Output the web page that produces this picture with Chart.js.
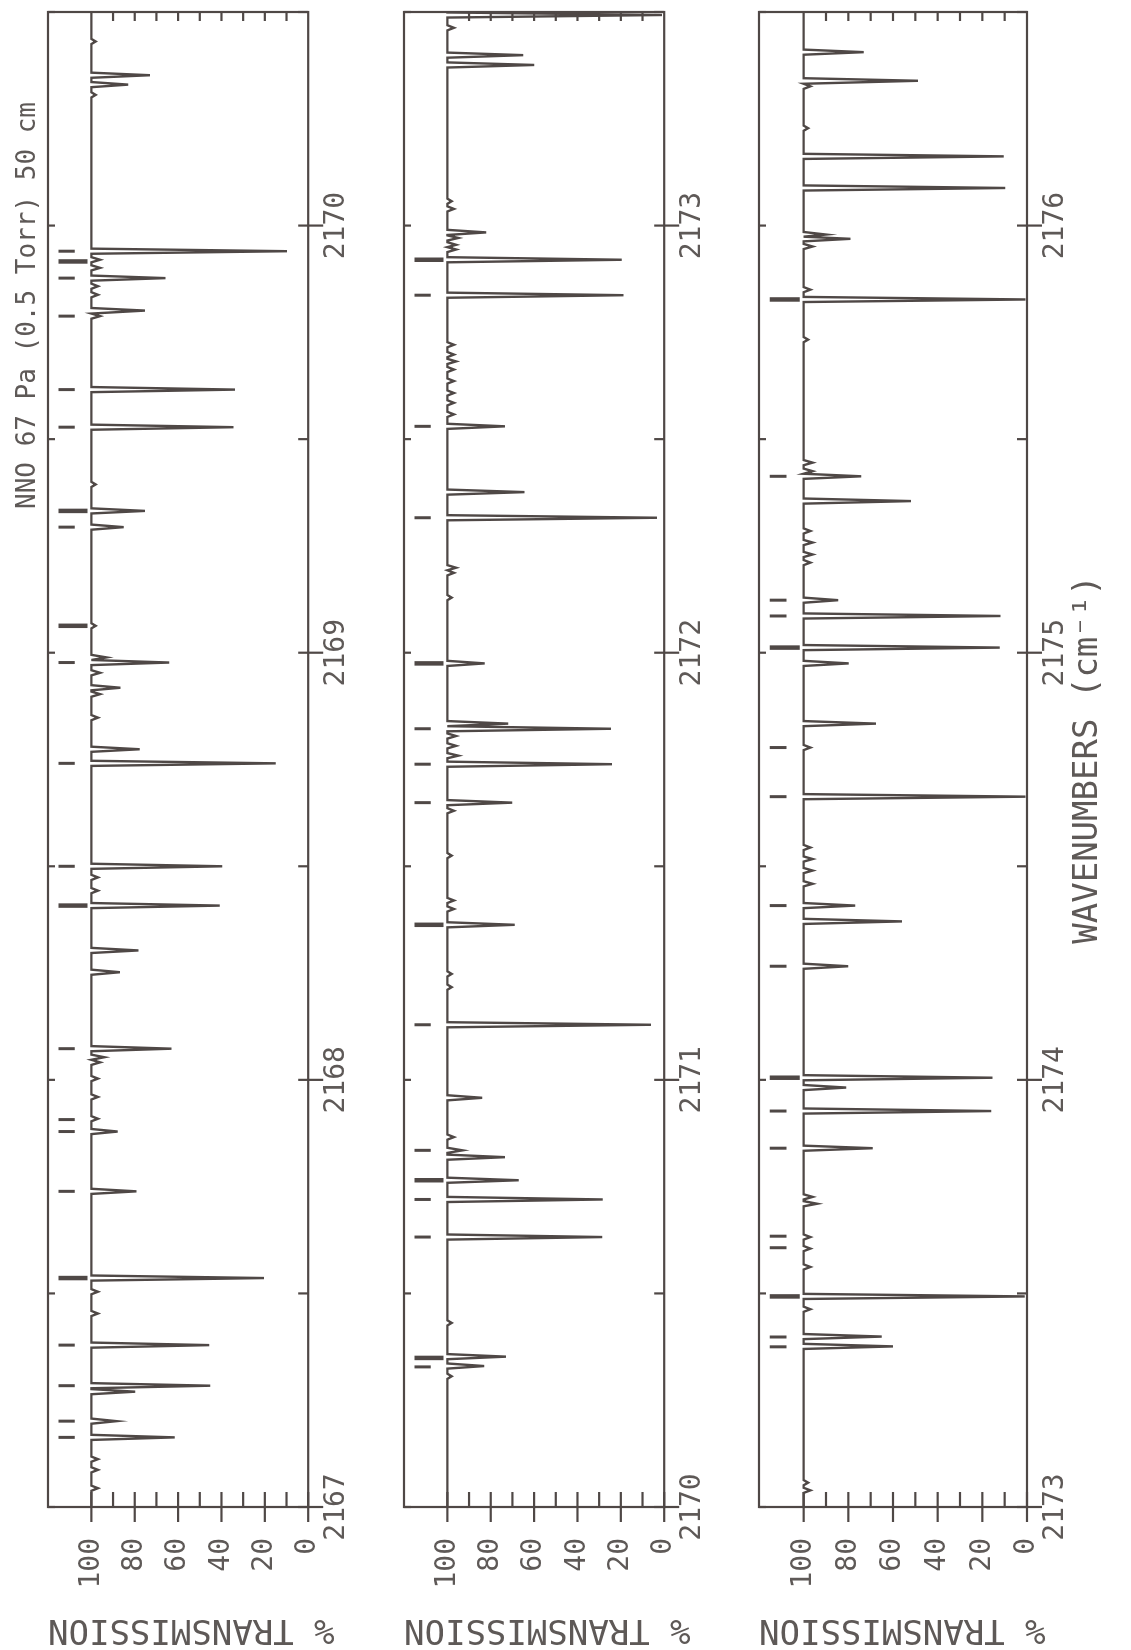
<!DOCTYPE html>
<html>
<head>
<meta charset="utf-8">
<script src="https://cdn.jsdelivr.net/npm/chart.js@4.4.1/dist/chart.umd.min.js"></script>
<style>
  html, body { margin: 0; padding: 0; background: #ffffff; width: 1131px; height: 1650px; overflow: hidden; }
  #rot { position: absolute; left: 0; top: 0; width: 1650px; height: 1131px;
         transform-origin: 0 0; transform: translate(0px, 1650px) rotate(-90deg); }
  #rot canvas { position: absolute; left: 0; }
</style>
</head>
<body>
<div id="rot">
  <canvas id="p0" width="1650" height="356" style="top:0px"></canvas>
  <canvas id="p1" width="1650" height="356" style="top:356px"></canvas>
  <canvas id="p2" width="1650" height="420" style="top:711px"></canvas>
</div>
<script>
// ---------------- DATA ----------------
const titleText = "NNO 67 Pa (0.5 Torr) 50 cm";
const xAxisTitle = "WAVENUMBERS (cm\u207B\u00B9)";
const yAxisTitle = "% TRANSMISSION";

// wavenumber range of each panel
const panelRanges = [[2167, 2170.5], [2170, 2173.5], [2173, 2176.5]];
// range in which each panel shows its assignment markers
const markerSpans = [[2167, 2170], [2170, 2173], [2173, 2176.5]];
// labelled wavenumber ticks of each panel
const wavenumberLabels = [[2167, 2168, 2169, 2170], [2170, 2171, 2172, 2173], [2173, 2174, 2175, 2176]];
// labelled transmission ticks
const transmissionLabels = [0, 20, 40, 60, 80, 100];

// absorption lines: position (cm-1) and transmission at line centre (%)
const lineWavenumbers = [
  2167.044, 2167.087, 2167.112, 2167.163, 2167.201, 2167.270, 2167.284, 2167.379, 2167.453, 2167.504,
  2167.536, 2167.739, 2167.879, 2167.909, 2167.960, 2168.003, 2168.041, 2168.053, 2168.073, 2168.252,
  2168.303, 2168.408, 2168.443, 2168.474, 2168.500, 2168.741, 2168.774, 2168.848, 2168.903, 2168.918,
  2168.953, 2168.977, 2168.989, 2169.063, 2169.294, 2169.332, 2169.394, 2169.528, 2169.616, 2169.788,
  2169.801, 2169.838, 2169.858, 2169.877, 2169.901, 2169.920, 2169.940, 2170.306, 2170.330, 2170.352,
  2170.431, 2170.632, 2170.720, 2170.765, 2170.819, 2170.835, 2170.866, 2170.958, 2171.129, 2171.217,
  2171.248, 2171.363, 2171.400, 2171.420, 2171.525, 2171.630, 2171.649, 2171.739, 2171.759, 2171.782,
  2171.805, 2171.822, 2171.834, 2171.975, 2172.129, 2172.187, 2172.199, 2172.316, 2172.376, 2172.530,
  2172.558, 2172.585, 2172.608, 2172.636, 2172.663, 2172.682, 2172.698, 2172.721, 2172.837, 2172.920,
  2172.944, 2172.955, 2172.971, 2172.984, 2173.039, 2173.057, 2173.376, 2173.399, 2173.463, 2173.493,
  2173.562, 2173.605, 2173.632, 2173.710, 2173.726, 2173.840, 2173.927, 2173.982, 2174.005, 2174.266,
  2174.371, 2174.408, 2174.459, 2174.490, 2174.517, 2174.544, 2174.663, 2174.778, 2174.834, 2174.975,
  2175.012, 2175.086, 2175.123, 2175.211, 2175.230, 2175.258, 2175.285, 2175.355, 2175.413, 2175.425,
  2175.445, 2175.733, 2175.827, 2175.850, 2175.951, 2175.969, 2175.979, 2176.088, 2176.162, 2176.228,
  2176.326, 2176.339, 2176.406
];
const lineTransmission = [
  97, 97, 97, 61.6, 88.4, 79.8, 45.2, 45.7, 97, 97,
  20.4, 79.2, 87.9, 97, 97, 97, 96, 94, 63.1, 86.9,
  78.3, 40.8, 97, 97, 39.6, 15.0, 77.7, 97, 96, 86.6,
  96, 64.1, 93, 98, 85.1, 75.3, 98, 34.5, 33.8, 96,
  75.3, 97, 97, 65.8, 96, 96, 9.8, 98, 83, 73,
  98, 28.6, 28.3, 67.1, 73.4, 93, 97, 84.0, 6.1, 98,
  98, 68.9, 97, 97, 98, 97, 70.1, 24.1, 95, 96,
  96, 24.5, 72, 82.8, 98, 97, 96, 3.3, 64.4, 73.4,
  97, 97, 97, 97, 97, 96, 97, 97, 18.8, 19.6,
  96, 96, 95, 82.1, 97, 98, 60, 65, 97, 1,
  97, 97, 97, 94, 96, 69.1, 16.0, 81.0, 15.4, 80.1,
  56.0, 76.9, 96, 96, 96, 97, 0.7, 97, 67.6, 79.9,
  12.2, 11.9, 84.6, 97, 96, 96, 97, 52, 74.2, 96,
  96, 98, 0.7, 97, 96, 79.1, 90, 9.7, 10.4, 98,
  97, 48.8, 73.1
];

// assignment markers above the trace (short and long/bold ones)
const markerShortWavenumbers = [
  2167.163, 2167.201, 2167.284, 2167.379, 2167.739, 2167.879, 2167.907, 2168.073, 2168.500, 2168.741,
  2168.977, 2169.294, 2169.528, 2169.616, 2169.788, 2169.877, 2169.940,
  2170.328, 2170.632, 2170.720, 2170.835, 2171.129, 2171.649, 2171.739, 2171.822, 2172.316, 2172.530, 2172.837,
  2173.375, 2173.398, 2173.607, 2173.634, 2173.840, 2173.927, 2174.266, 2174.408, 2174.663, 2174.778,
  2175.086, 2175.123, 2175.413
];
const markerLongWavenumbers = [
  2167.536, 2168.408, 2169.063, 2169.332, 2169.916,
  2170.349, 2170.765, 2171.363, 2171.975, 2172.920,
  2173.493, 2174.005, 2175.012, 2175.827
];
const markerShortSpan = [107.7, 115.2];
const markerLongSpan = [101.8, 115.2];

// ---------------- STYLE ----------------
const LINE = '#4f4846';
const TEXT = '#5e5957';
const FONT = "'DejaVu Sans Mono', 'Liberation Mono', monospace";
const BASELINE = 100;
const HALF_WIDTH = 0.006;
const AREA_TOP = 48, AREA_H = 268, RIGHT_PAD = 10, Y_AXIS_W = 143;

Chart.defaults.font.family = FONT;
Chart.defaults.color = TEXT;

function spectrumPoints(lo, hi) {
  const pts = [{ x: lo - 0.05, y: BASELINE }];
  for (let i = 0; i < lineWavenumbers.length; i++) {
    const w = lineWavenumbers[i];
    if (w < lo - 0.05 || w > hi + 0.05) continue;
    const prev = i > 0 ? lineWavenumbers[i - 1] : -Infinity;
    const next = i < lineWavenumbers.length - 1 ? lineWavenumbers[i + 1] : Infinity;
    const hl = Math.min(HALF_WIDTH, (w - prev) / 2);
    const hr = Math.min(HALF_WIDTH, (next - w) / 2);
    pts.push({ x: w - hl, y: BASELINE }, { x: w, y: lineTransmission[i] }, { x: w + hr, y: BASELINE });
  }
  pts.push({ x: hi + 0.05, y: BASELINE });
  return pts;
}

function markerPoints(list, span, ownRange, last) {
  const pts = [];
  list.forEach(w => {
    const inside = w >= ownRange[0] && (last ? w <= ownRange[1] : w < ownRange[1]);
    if (!inside) return;
    pts.push({ x: w, y: span[1] }, { x: w, y: span[0] }, { x: w, y: null });
  });
  return pts;
}

const frameTicks = {
  id: 'frameTicks',
  afterDatasetsDraw(chart) {
    const { ctx, chartArea: a } = chart;
    const xs = chart.scales.x, ys = chart.scales.y;
    ctx.save();
    ctx.strokeStyle = LINE;
    ctx.lineWidth = 2.2;
    ctx.lineCap = 'butt';
    ctx.strokeRect(a.left, a.top, a.right - a.left, a.bottom - a.top);
    const seg = (x1, y1, x2, y2) => { ctx.beginPath(); ctx.moveTo(x1, y1); ctx.lineTo(x2, y2); ctx.stroke(); };
    ys.ticks.forEach(t => {
      const v = t.value;
      if (v > 100) return;
      const py = ys.getPixelForValue(v);
      const major = transmissionLabels.includes(v);
      seg(a.left - (major ? 15 : 0), py, a.left + 15, py);
      if (v > 0 && v < 100) seg(a.right - 9, py, a.right, py);
    });
    xs.ticks.forEach(t => {
      const px = xs.getPixelForValue(t.value);
      const major = Math.abs(t.value - Math.round(t.value)) < 1e-6;
      seg(px, a.bottom - 10, px, a.bottom + (major ? 15 : 0));
      seg(px, a.top, px, a.top + 7);
    });
    ctx.restore();
  }
};

const titlePlugin = {
  id: 'pageTitle',
  afterDraw(chart) {
    const ctx = chart.ctx;
    ctx.save();
    ctx.font = "26px " + FONT;
    ctx.fillStyle = TEXT;
    ctx.textAlign = 'right';
    ctx.textBaseline = 'middle';
    ctx.fillText(titleText, 1548, 28);
    ctx.restore();
  }
};

panelRanges.forEach((range, p) => {
  const canvas = document.getElementById('p' + p);
  const last = p === panelRanges.length - 1;
  const labels = wavenumberLabels[p];
  const xAxisH = canvas.height - AREA_TOP - AREA_H;
  new Chart(canvas, {
    type: 'line',
    data: {
      datasets: [
        { data: spectrumPoints(range[0], range[1]), borderColor: LINE, borderWidth: 2.4,
          pointRadius: 0, tension: 0, fill: false },
        { data: markerPoints(markerShortWavenumbers, markerShortSpan, markerSpans[p], last),
          borderColor: LINE, borderWidth: 3, pointRadius: 0, spanGaps: false, fill: false },
        { data: markerPoints(markerLongWavenumbers, markerLongSpan, markerSpans[p], last),
          borderColor: LINE, borderWidth: 4.5, pointRadius: 0, spanGaps: false, fill: false }
      ]
    },
    options: {
      responsive: false,
      animation: false,
      events: [],
      layout: { padding: { top: AREA_TOP, right: RIGHT_PAD, left: 0, bottom: 0 } },
      plugins: { legend: { display: false }, tooltip: { enabled: false } },
      scales: {
        x: {
          type: 'linear', min: range[0], max: range[1],
          grid: { display: false, drawTicks: false }, border: { display: false },
          ticks: {
            stepSize: 0.5, autoSkip: false, maxRotation: 0, padding: 12,
            font: { size: 28 }, color: TEXT,
            callback: v => {
              const r = Math.round(v);
              return (Math.abs(v - r) < 1e-6 && labels.includes(r)) ? String(r) : '';
            }
          },
          title: { display: last, text: xAxisTitle, color: TEXT, font: { size: 34 },
                   padding: { top: 0, bottom: 22 } },
          afterFit: s => { s.height = xAxisH; }
        },
        y: {
          type: 'linear', min: 0, max: 120,
          grid: { display: false, drawTicks: false }, border: { display: false },
          ticks: {
            stepSize: 10, autoSkip: false, padding: 31, font: { size: 28 }, color: TEXT,
            callback: v => transmissionLabels.includes(v) ? String(v) : ''
          },
          title: { display: true, text: yAxisTitle, align: 'end', color: TEXT, font: { size: 34 },
                   padding: { top: 1, bottom: 0 } },
          afterFit: s => { s.width = Y_AXIS_W; }
        }
      }
    },
    plugins: p === 0 ? [frameTicks, titlePlugin] : [frameTicks]
  });
});
</script>
</body>
</html>
